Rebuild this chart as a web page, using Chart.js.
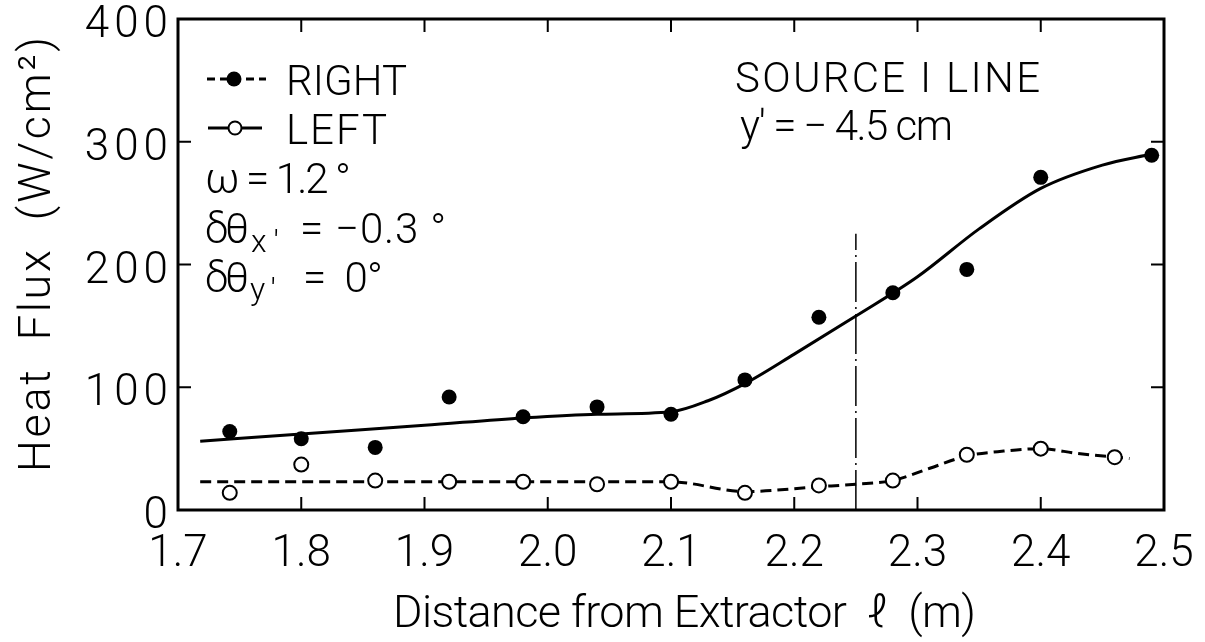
<!DOCTYPE html>
<html><head><meta charset="utf-8">
<script src="https://cdn.jsdelivr.net/npm/chart.js@4.4.0/dist/chart.umd.min.js"></script>
<style>html,body{margin:0;padding:0;background:#fff;}#wrap{width:1205px;height:642px;position:relative;}</style>
</head><body><div id="wrap"><canvas id="c" width="1205" height="642"></canvas></div>
<script>
// ---- data ----
const rightX = [1.742, 1.80, 1.86, 1.92, 1.98, 2.04, 2.10, 2.16, 2.22, 2.28, 2.34, 2.40, 2.49];
const rightY = [64, 58, 51, 92, 76, 84, 78, 106, 157, 177, 196, 271, 289];
const leftX  = [1.742, 1.80, 1.86, 1.92, 1.98, 2.04, 2.10, 2.16, 2.22, 2.28, 2.34, 2.40, 2.46];
const leftY  = [14, 37, 24, 23, 23, 21, 23, 14, 20, 24, 45, 50, 43];
const rightFitX = [1.718, 1.80, 1.90, 1.98, 2.04, 2.10, 2.13, 2.16, 2.20, 2.25, 2.30, 2.35, 2.40, 2.45, 2.49];
const rightFitY = [56, 62, 69, 75, 78, 80, 89, 103, 127, 158, 190, 229, 262, 281, 290];
const leftFitX = [1.718, 1.80, 1.90, 2.00, 2.10, 2.16, 2.22, 2.25, 2.28, 2.31, 2.34, 2.37, 2.40, 2.43, 2.472];
const leftFitY = [23, 23, 23, 23, 23, 15, 19, 21, 24, 34, 44, 48, 50, 46, 42];
const markerX = [2.25, 2.25];
const markerY = [0, 225];
const xTicks = [1.7, 1.8, 1.9, 2.0, 2.1, 2.2, 2.3, 2.4, 2.5];
const yTicks = [0, 100, 200, 300, 400];
const xTitle = 'Distance from Extractor  \u2113  (m)';
const yTitle = 'Heat  Flux  (W/cm\u00B2)';

const FAM = 'Roboto, "DejaVu Sans Condensed", sans-serif';
const W = '300';
const f = (size) => W + ' ' + size + 'px ' + FAM;
const pts = (xs, ys) => xs.map((x, i) => ({x: x, y: ys[i]}));

function fitText(ctx, txt, x, y, target) {
  ctx.letterSpacing = '0px';
  if (target) {
    const w = ctx.measureText(txt).width;
    const ls = (target - w) / Math.max(1, txt.length - 1);
    ctx.letterSpacing = ls.toFixed(2) + 'px';
  }
  ctx.fillText(txt, x, y);
  ctx.letterSpacing = '0px';
}

const decor = {
  id: 'decor',
  beforeDatasetsDraw(chart) {
    const {ctx, chartArea: a, scales: {x, y}} = chart;
    ctx.save();
    ctx.strokeStyle = '#000';
    ctx.lineWidth = 3;
    ctx.strokeRect(a.left, a.top, a.right - a.left, a.bottom - a.top);
    ctx.lineWidth = 2;
    ctx.beginPath();
    xTicks.slice(1, -1).forEach(v => {
      const px = x.getPixelForValue(v);
      ctx.moveTo(px, a.bottom); ctx.lineTo(px, a.bottom - 13);
      ctx.moveTo(px, a.top); ctx.lineTo(px, a.top + 13);
    });
    yTicks.slice(1, -1).forEach(v => {
      const py = y.getPixelForValue(v);
      ctx.moveTo(a.left, py); ctx.lineTo(a.left + 13, py);
      ctx.moveTo(a.right, py); ctx.lineTo(a.right - 13, py);
    });
    ctx.stroke();
    ctx.restore();
  },
  afterDatasetsDraw(chart) {
    // y tick labels (drawn after datasets, z:1) use wider letter spacing like the original
    chart.ctx.letterSpacing = '5px';
  },
  afterDraw(chart) {
    const {ctx} = chart;
    ctx.letterSpacing = '0px';
    ctx.save();
    ctx.fillStyle = '#000';
    ctx.strokeStyle = '#000';
    ctx.textBaseline = 'alphabetic';
    ctx.textAlign = 'left';
    // legend samples
    ctx.lineWidth = 3;
    ctx.setLineDash([8, 5]);
    ctx.beginPath(); ctx.moveTo(207, 79); ctx.lineTo(266, 79); ctx.stroke();
    ctx.setLineDash([]);
    ctx.beginPath(); ctx.arc(234, 79, 7.5, 0, Math.PI * 2); ctx.fill();
    ctx.beginPath(); ctx.moveTo(208, 128); ctx.lineTo(262, 128); ctx.stroke();
    ctx.beginPath(); ctx.arc(235, 128, 6.5, 0, Math.PI * 2);
    ctx.fillStyle = '#fff'; ctx.fill(); ctx.lineWidth = 2; ctx.stroke();
    ctx.fillStyle = '#000';
    ctx.font = f(42);
    fitText(ctx, 'RIGHT', 286, 95, 121);
    fitText(ctx, 'LEFT', 286, 144, 101);
    fitText(ctx, 'SOURCE I LINE', 735, 92, 305);
    fitText(ctx, "y' = \u2212 4.5 cm", 740, 140, 213);
    fitText(ctx, '\u03C9 = 1.2 \u00B0', 205, 193, 146);
    // delta theta x'
    fitText(ctx, '\u03B4\u03B8', 205, 243, 44);
    ctx.font = f(32);
    fitText(ctx, "x'", 251, 252, 28);
    ctx.font = f(42);
    fitText(ctx, '= \u22120.3 \u00B0', 300, 243, 146);
    // delta theta y'
    fitText(ctx, '\u03B4\u03B8', 205, 292, 44);
    ctx.font = f(32);
    fitText(ctx, "y'", 250, 300, 26);
    ctx.font = f(42);
    fitText(ctx, '=  0\u00B0', 303, 292, 80);
    // axis titles
    ctx.font = f(45);
    fitText(ctx, xTitle, 393, 627, 583);
    ctx.translate(50, 472);
    ctx.rotate(-Math.PI / 2);
    fitText(ctx, yTitle, 0, 0, 435);
    ctx.restore();
  }
};

const zeroPad = s => { s.paddingTop = 0; s.paddingBottom = 0; s.paddingLeft = 0; s.paddingRight = 0; };

new Chart(document.getElementById('c'), {
  type: 'scatter',
  data: {
    datasets: [
      { label: 'RIGHT', data: pts(rightX, rightY), order: 0, pointRadius: 7.5, pointHoverRadius: 7.5,
        backgroundColor: '#000', borderColor: '#000', pointBorderWidth: 0 },
      { label: 'LEFT', data: pts(leftX, leftY), order: 0, pointRadius: 7, pointHoverRadius: 7,
        backgroundColor: '#fff', borderColor: '#000', pointBorderWidth: 2 },
      { label: 'RIGHT fit', data: pts(rightFitX, rightFitY), order: 1, showLine: true, pointRadius: 0,
        borderColor: '#000', borderWidth: 3, cubicInterpolationMode: 'monotone', backgroundColor: '#000' },
      { label: 'LEFT fit', data: pts(leftFitX, leftFitY), order: 1, showLine: true, pointRadius: 0,
        borderColor: '#000', borderWidth: 3, borderDash: [11, 6], cubicInterpolationMode: 'monotone' },
      { label: 'marker', data: pts(markerX, markerY), order: 2, showLine: true, pointRadius: 0,
        borderColor: '#000', borderWidth: 1.5, borderDash: [40, 5, 2, 5] }
    ]
  },
  options: {
    responsive: false, animation: false, devicePixelRatio: 1,
    layout: { padding: { top: 19, right: 41, left: 0, bottom: 0 } },
    plugins: { legend: { display: false }, tooltip: { enabled: false } },
    scales: {
      x: {
        type: 'linear', min: 1.7, max: 2.5,
        afterBuildTicks: s => { s.ticks = xTicks.map(v => ({ value: v })); },
        afterFit: s => { s.height = 132; zeroPad(s); },
        ticks: { callback: v => Number(v).toFixed(1), color: '#000', padding: 11, maxRotation: 0, autoSkip: false,
                 font: { family: FAM, size: 44, weight: W } },
        grid: { display: false }, border: { display: false }
      },
      y: {
        min: 0, max: 400,
        afterBuildTicks: s => { s.ticks = yTicks.map(v => ({ value: v })); },
        afterFit: s => { s.width = 178; zeroPad(s); },
        ticks: { color: '#000', padding: -3, labelOffset: 7, z: 1, font: { family: FAM, size: 44, weight: W } },
        grid: { display: false }, border: { display: false }
      }
    }
  },
  plugins: [decor]
});
</script></body></html>
